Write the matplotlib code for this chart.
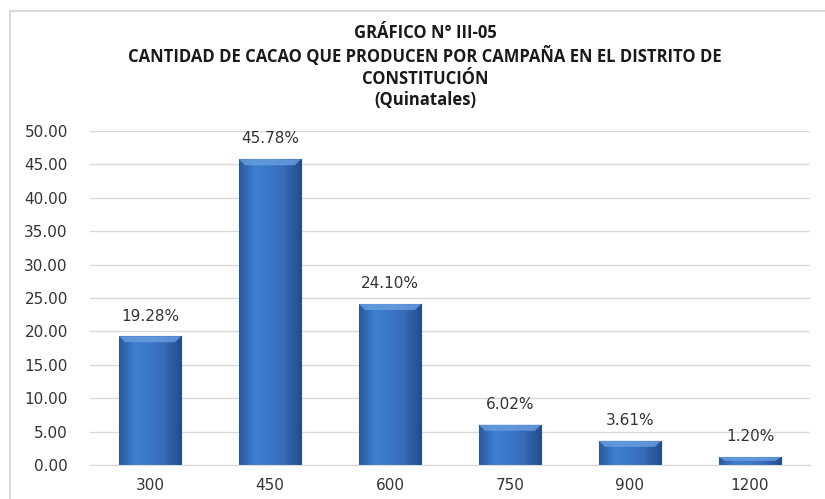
import numpy as np
import matplotlib.pyplot as plt
from matplotlib.lines import Line2D
from matplotlib.colors import LinearSegmentedColormap

categories = ['300', '450', '600', '750', '900', '1200']
values = [19.28, 45.78, 24.10, 6.02, 3.61, 1.20]
labels = ['19.28%', '45.78%', '24.10%', '6.02%', '3.61%', '1.20%']
title_lines = ['GRÁFICO N° III-05',
               'CANTIDAD DE CACAO QUE PRODUCEN POR CAMPAÑA EN EL DISTRITO DE',
               'CONSTITUCIÓN',
               '(Quinatales)']

fig = plt.figure(figsize=(8.25, 4.99), dpi=100)
ax = fig.add_axes([90 / 825, 34 / 499, 720 / 825, 334 / 499])

# chart frame: only top and left edges are visible in the crop
fig.lines.append(Line2D([10 / 825, 10 / 825, 1.0], [0.0, 488 / 499, 488 / 499],
                        transform=fig.transFigure, color='#d9d9d9',
                        linewidth=1.5))

x = np.arange(len(categories))
bars = ax.bar(x, values, width=0.52, color='#3a74c2', edgecolor='#1f4e8c',
              linewidth=0.8, zorder=2)

# shaded fill for the bevel look
cmap = LinearSegmentedColormap.from_list(
    'bev', ['#2a5a9e', '#3f7fd0', '#3b78c8', '#3468b3', '#224d8a'])
grad = np.linspace(0, 1, 64).reshape(1, -1)
for b in bars:
    x0, w, h = b.get_x(), b.get_width(), b.get_height()
    im = ax.imshow(grad, cmap=cmap, aspect='auto', extent=(x0, x0 + w, 0, h),
                   zorder=2.5)
    im.set_clip_path(b)
    top = min(0.9, h * 0.5)
    ax.add_patch(plt.Polygon([(x0, h), (x0 + w, h), (x0 + w * 0.9, h - top),
                              (x0 + w * 0.1, h - top)],
                             closed=True, color='#6a9fe0', alpha=0.8,
                             zorder=2.6, linewidth=0))

for xi, v, lab in zip(x, values, labels):
    ax.text(xi, v + 1.9, lab, ha='center', va='bottom', fontsize=11,
            color='#333333')

ax.set_xlim(-0.5, len(categories) - 0.5)
ax.set_ylim(0, 50)
ax.set_yticks(np.arange(0, 50.1, 5))
ax.set_yticklabels([f'{t:.2f}' for t in np.arange(0, 50.1, 5)])
ax.set_xticks(x)
ax.set_xticklabels(categories)
ax.tick_params(axis='both', length=0, labelsize=11, labelcolor='#333333')
ax.tick_params(axis='y', pad=16)
ax.tick_params(axis='x', pad=9)
ax.grid(axis='y', color='#d9d9d9', linewidth=1, zorder=0)
ax.set_axisbelow(True)
for s in ['top', 'right', 'left']:
    ax.spines[s].set_visible(False)
ax.spines['bottom'].set_color('#d9d9d9')

ys = [466, 443, 420, 399]
for t, y in zip(title_lines, ys):
    fig.text(425 / 825, y / 499, t, ha='center', va='center', fontsize=12,
             fontweight='bold', family='Open Sans', color='#1a1a1a')

fig.savefig('out.png', dpi=100)
